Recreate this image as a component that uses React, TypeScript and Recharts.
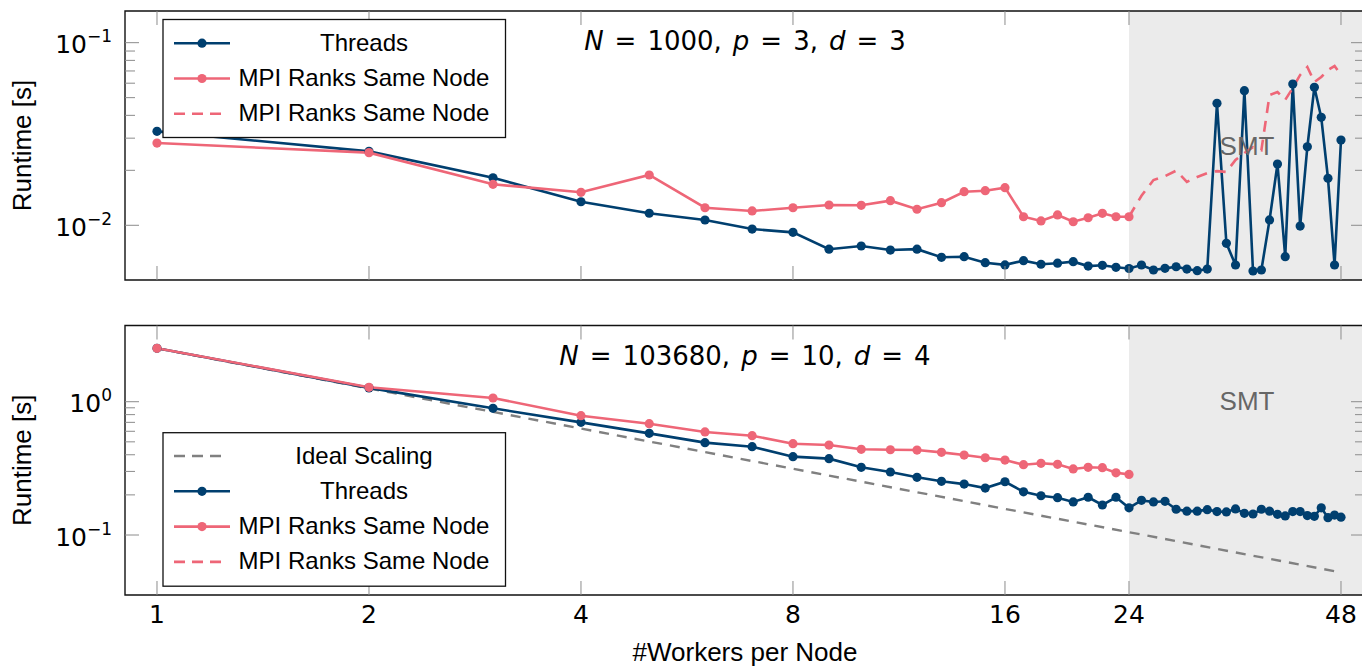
import React from 'react';
import { LineChart, Line, XAxis, YAxis, ReferenceArea } from 'recharts';

// ---------- data ----------
const workers = [
  1, 2, 3, 4, 5, 6, 7, 8, 9, 10, 11, 12, 13, 14, 15, 16, 17, 18, 19, 20, 21, 22, 23, 24,
  25, 26, 27, 28, 29, 30, 31, 32, 33, 34, 35, 36, 37, 38, 39, 40, 41, 42, 43, 44, 45, 46, 47, 48,
];
const xTicks = [1, 2, 4, 8, 16, 24, 48];

// N = 1000, p = 3, d = 3
const topThreads = [
  0.0327, 0.0254, 0.0182, 0.01346, 0.01164, 0.01069, 0.00954, 0.00915, 0.0074, 0.0077, 0.00732, 0.0074,
  0.00668, 0.00673, 0.00624, 0.00607, 0.0064, 0.00612, 0.0062, 0.00632, 0.00598, 0.00604, 0.00589, 0.0058,
  0.00606, 0.00569, 0.00581, 0.00593, 0.00576, 0.00564, 0.00576, 0.0466, 0.00797, 0.00606, 0.0546, 0.00562,
  0.00569, 0.0107, 0.02166, 0.00673, 0.0594, 0.0099, 0.0269, 0.057, 0.039, 0.0181, 0.00606, 0.0293,
];
// workers 1..24
const topMpi = [
  0.0282, 0.025, 0.01677, 0.01516, 0.01886, 0.01248, 0.01198, 0.01248, 0.01292, 0.01287, 0.01364, 0.01224,
  0.0133, 0.01527, 0.01547, 0.01607, 0.01114, 0.01056, 0.01139, 0.01046, 0.011, 0.01163, 0.01114, 0.01114,
];
// workers 24..48 (SMT, dashed)
const topMpiSmt = [
  0.01114, 0.0145, 0.0177, 0.0186, 0.0199, 0.0173, 0.0184, 0.0193, 0.0198, 0.0196, 0.0228, 0.0249, 0.0268,
  0.0258, 0.0517, 0.0537, 0.0486, 0.0565, 0.0666, 0.0736, 0.0609, 0.0649, 0.0709, 0.0745, 0.0666,
];

// N = 103680, p = 10, d = 4
const bottomThreads = [
  2.515, 1.27, 0.892, 0.7, 0.579, 0.493, 0.46, 0.387, 0.374, 0.322, 0.297, 0.271,
  0.253, 0.241, 0.225, 0.251, 0.211, 0.197, 0.1905, 0.177, 0.192, 0.168, 0.192, 0.16,
  0.182, 0.177, 0.179, 0.156, 0.151, 0.151, 0.155, 0.15, 0.149, 0.157, 0.1455, 0.1437,
  0.156, 0.151, 0.143, 0.139, 0.15, 0.15, 0.14, 0.138, 0.16, 0.135, 0.141, 0.136,
];
const bottomMpi = [
  2.515, 1.282, 1.066, 0.785, 0.684, 0.593, 0.556, 0.484, 0.473, 0.4395, 0.436, 0.434,
  0.417, 0.398, 0.38, 0.365, 0.337, 0.345, 0.339, 0.313, 0.322, 0.32, 0.293, 0.285,
];
const idealWorkers = [1, 2, 4, 8, 16, 24, 48];
const bottomIdeal = [2.515, 1.258, 0.629, 0.314, 0.157, 0.105, 0.0524];

const topYTicks = [0.01, 0.02, 0.03, 0.04, 0.05, 0.06, 0.07, 0.08, 0.09, 0.1];
const bottomYTicks = [0.1, 0.2, 0.3, 0.4, 0.5, 0.6, 0.7, 0.8, 0.9, 1];

// ---------- styling / layout ----------
const BLUE = '#003f6f';
const PINK = '#ee6677';
const GRAY = '#808080';
const TICK = '#8c8c8c';
const MATH = '"DejaVu Sans", sans-serif';
const TEXT = '"Liberation Sans", Arial, sans-serif';

const CHART_W = 1370;
const PLOT_L = 125;
const PLOT_R = 1365;
const PLOT_W = PLOT_R - PLOT_L;
const X_DOMAIN: [number, number] = [0.9007, 51.92];
const TOP_Y: [number, number] = [0.005017, 0.1491];
const BOT_Y: [number, number] = [0.03548, 3.73];
const TOP_PH = 269;
const BOT_PH = 269.5;

function buildRows(threads: number[], mpi: number[], mpiSmt: number[] | null, ideal: number[] | null) {
  return workers.map((w, i) => {
    const row: any = { workers: w, threads: threads[i] };
    if (i < mpi.length) row.mpi = mpi[i];
    const j = w - 24;
    if (mpiSmt && j >= 0 && j < mpiSmt.length) row.mpiSmt = mpiSmt[j];
    const k = idealWorkers.indexOf(w);
    if (ideal && k >= 0) row.ideal = ideal[k];
    return row;
  });
}

const topRows = buildRows(topThreads, topMpi, topMpiSmt, null);
const bottomRows = buildRows(bottomThreads, bottomMpi, null, bottomIdeal);

const isMajor = (v: number) => Math.abs(Math.log10(v) - Math.round(Math.log10(v))) < 1e-6;

const makeXTick = (plotH: number, labels: boolean) => (props: any) => {
  const { x, y, payload } = props;
  return (
    <g>
      <line x1={x} x2={x} y1={y} y2={y - 14} stroke={TICK} strokeWidth={1} />
      <line x1={x} x2={x} y1={y - plotH} y2={y - plotH + 14} stroke={TICK} strokeWidth={1} />
      {labels && (
        <text x={x} y={y + 28.3} textAnchor="middle" fontFamily={MATH} fontSize={25} fill="#000">
          {payload.value}
        </text>
      )}
    </g>
  );
};

const makeYTick = () => (props: any) => {
  const { x, y, payload } = props;
  const v = payload.value as number;
  const major = isMajor(v);
  const len = major ? 14 : 10;
  const e = Math.round(Math.log10(v));
  const expText = e < 0 ? '\u2212' + String(-e) : String(e);
  return (
    <g>
      <line x1={x} x2={x + len} y1={y} y2={y} stroke={TICK} strokeWidth={1} />
      <line x1={x + PLOT_W} x2={x + PLOT_W - len} y1={y} y2={y} stroke={TICK} strokeWidth={1} />
      {major && (
        <text x={x - 13} y={y + 10.5} textAnchor="end" fontFamily={MATH} fontSize={25} fill="#000">
          10
          <tspan dy={-11} fontSize={17}>
            {expText}
          </tspan>
        </text>
      )}
    </g>
  );
};

const dotStyle = (c: string) => ({ r: 4.6, fill: c, stroke: c, strokeWidth: 0 });

function Panel({
  rows,
  yDomain,
  yTicks,
  height,
  marginTop,
  xAxisHeight,
  plotH,
  showXLabels,
  smtOffset,
  showIdeal,
}: any) {
  return (
    <LineChart
      width={CHART_W}
      height={height}
      data={rows}
      margin={{ top: marginTop, right: CHART_W - PLOT_R, bottom: 0, left: 0 }}
    >
      <ReferenceArea
        x1={24}
        x2={X_DOMAIN[1]}
        y1={yDomain[0]}
        y2={yDomain[1]}
        fill="#ebebeb"
        fillOpacity={1}
        stroke="none"
        ifOverflow="visible"
        label={{
          value: 'SMT',
          position: 'insideTop',
          offset: smtOffset,
          fill: '#666',
          fontSize: 26,
          fontFamily: TEXT,
        }}
      />
      <XAxis
        dataKey="workers"
        type="number"
        scale="log"
        domain={X_DOMAIN}
        allowDataOverflow
        ticks={xTicks}
        interval={0}
        height={xAxisHeight}
        tickSize={0}
        tickMargin={0}
        tickLine={false}
        axisLine={false}
        tick={makeXTick(plotH, showXLabels)}
        label={
          showXLabels
            ? {
                value: '#Workers per Node',
                position: 'insideBottom',
                offset: 7,
                fill: '#000',
                fontSize: 26,
                fontFamily: TEXT,
              }
            : undefined
        }
      />
      <YAxis
        type="number"
        scale="log"
        domain={yDomain}
        allowDataOverflow
        ticks={yTicks}
        interval={0}
        width={PLOT_L}
        tickSize={0}
        tickMargin={0}
        tickLine={false}
        axisLine={false}
        tick={makeYTick()}
        label={{
          value: 'Runtime [s]',
          angle: -90,
          position: 'insideLeft',
          offset: 22,
          fill: '#000',
          fontSize: 26,
          fontFamily: TEXT,
          style: { textAnchor: 'middle' },
        }}
      />
      {showIdeal && (
        <Line
          type="linear"
          dataKey="ideal"
          stroke={GRAY}
          strokeWidth={2.4}
          strokeDasharray="10 8"
          dot={false}
          activeDot={false}
          connectNulls
          isAnimationActive={false}
        />
      )}
      <Line
        type="linear"
        dataKey="threads"
        stroke={BLUE}
        strokeWidth={2.6}
        dot={dotStyle(BLUE)}
        activeDot={false}
        isAnimationActive={false}
      />
      <Line
        type="linear"
        dataKey="mpi"
        stroke={PINK}
        strokeWidth={2.6}
        dot={dotStyle(PINK)}
        activeDot={false}
        isAnimationActive={false}
      />
      <Line
        type="linear"
        dataKey="mpiSmt"
        stroke={PINK}
        strokeWidth={2.6}
        strokeDasharray="11 8"
        dot={false}
        activeDot={false}
        isAnimationActive={false}
      />
      <ReferenceArea
        x1={X_DOMAIN[0]}
        x2={X_DOMAIN[1]}
        y1={yDomain[0]}
        y2={yDomain[1]}
        fill="none"
        fillOpacity={0}
        stroke="#111"
        strokeWidth={1.4}
        ifOverflow="visible"
      />
    </LineChart>
  );
}

type Part = { t: string; it?: boolean };

function MathTitle({ cx, y, parts }: { cx: number; y: number; parts: Part[] }) {
  return (
    <text x={cx} y={y} textAnchor="middle" fontFamily={MATH} fontSize={26} fill="#000">
      {parts.map((p, i) => (
        <tspan key={i} dx={i === 0 ? 0 : 11} fontStyle={p.it ? 'italic' : 'normal'}>
          {p.t}
        </tspan>
      ))}
    </text>
  );
}

type LegendRow = { kind: 'ideal' | 'threads' | 'mpi' | 'mpiDash'; label: string };

function LegendBox({ x, y, w, h, firstRowY, rows }: { x: number; y: number; w: number; h: number; firstRowY: number; rows: LegendRow[] }) {
  return (
    <g>
      <rect x={x} y={y} width={w} height={h} fill="#fff" stroke="#111" strokeWidth={1.3} />
      {rows.map((r, i) => {
        const ry = firstRowY + i * 35.3;
        let sample: React.ReactNode = null;
        if (r.kind === 'ideal') {
          sample = <line x1={174} x2={226} y1={ry} y2={ry} stroke={GRAY} strokeWidth={2.4} strokeDasharray="11 7" />;
        } else if (r.kind === 'mpiDash') {
          sample = <line x1={174} x2={226} y1={ry} y2={ry} stroke={PINK} strokeWidth={2.6} strokeDasharray="11 7" />;
        } else {
          const c = r.kind === 'threads' ? BLUE : PINK;
          sample = (
            <g>
              <line x1={174} x2={230} y1={ry} y2={ry} stroke={c} strokeWidth={2.6} />
              <circle cx={202} cy={ry} r={4.6} fill={c} />
            </g>
          );
        }
        return (
          <g key={i}>
            {sample}
            <text x={364} y={ry + 7.5} textAnchor="middle" fontFamily={TEXT} fontSize={24} fill="#000">
              {r.label}
            </text>
          </g>
        );
      })}
    </g>
  );
}

const topTitle: Part[] = [
  { t: 'N', it: true },
  { t: '=' },
  { t: '1000,' },
  { t: 'p', it: true },
  { t: '=' },
  { t: '3,' },
  { t: 'd', it: true },
  { t: '=' },
  { t: '3' },
];
const bottomTitle: Part[] = [
  { t: 'N', it: true },
  { t: '=' },
  { t: '103680,' },
  { t: 'p', it: true },
  { t: '=' },
  { t: '10,' },
  { t: 'd', it: true },
  { t: '=' },
  { t: '4' },
];

const topLegend: LegendRow[] = [
  { kind: 'threads', label: 'Threads' },
  { kind: 'mpi', label: 'MPI Ranks Same Node' },
  { kind: 'mpiDash', label: 'MPI Ranks Same Node' },
];
const bottomLegend: LegendRow[] = [
  { kind: 'ideal', label: 'Ideal Scaling' },
  { kind: 'threads', label: 'Threads' },
  { kind: 'mpi', label: 'MPI Ranks Same Node' },
  { kind: 'mpiDash', label: 'MPI Ranks Same Node' },
];

export default function App() {
  return (
    <div
      style={{
        position: 'absolute',
        left: 0,
        top: 0,
        width: 1362,
        height: 668,
        overflow: 'hidden',
        background: '#fff',
      }}
    >
      <div style={{ position: 'absolute', left: 0, top: 0 }}>
        <Panel
          rows={topRows}
          yDomain={TOP_Y}
          yTicks={topYTicks}
          height={300}
          marginTop={11}
          xAxisHeight={20}
          plotH={TOP_PH}
          showXLabels={false}
          smtOffset={126}
          showIdeal={false}
        />
      </div>
      <div style={{ position: 'absolute', left: 0, top: 300 }}>
        <Panel
          rows={bottomRows}
          yDomain={BOT_Y}
          yTicks={bottomYTicks}
          height={368}
          marginTop={25.5}
          xAxisHeight={73}
          plotH={BOT_PH}
          showXLabels={true}
          smtOffset={66.5}
          showIdeal={true}
        />
      </div>
      <svg
        width={1362}
        height={668}
        style={{ position: 'absolute', left: 0, top: 0, pointerEvents: 'none' }}
      >
        <MathTitle cx={745} y={50} parts={topTitle} />
        <MathTitle cx={745} y={365} parts={bottomTitle} />
        <LegendBox x={163} y={19.5} w={342.5} h={118} firstRowY={43.2} rows={topLegend} />
        <LegendBox x={163} y={432.7} w={342.5} h={153.5} firstRowY={456} rows={bottomLegend} />
      </svg>
    </div>
  );
}
